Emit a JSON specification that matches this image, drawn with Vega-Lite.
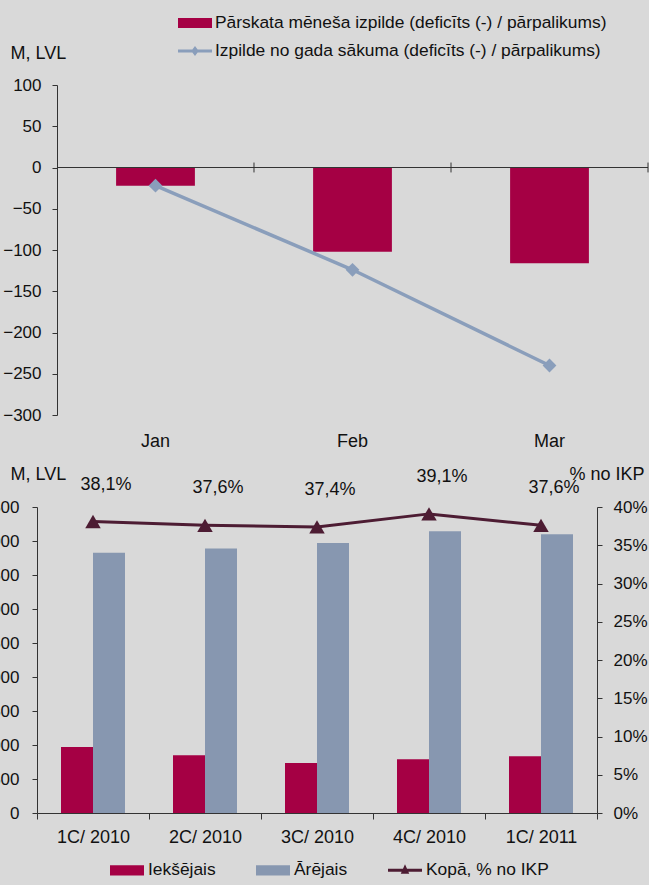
{
  "$schema": "https://vega.github.io/schema/vega-lite/v6.json",
  "autosize": {"type": "none"},
  "padding": {"left": 37, "top": 85, "right": 612, "bottom": 800},
  "background": "#d9d9d9",
  "bounds": "flush",
  "spacing": 92,
  "config": {
    "font": "Liberation Sans",
    "view": {"stroke": null},
    "axis": {"labelFont": "Liberation Sans", "labelFontSize": 17, "labelColor": "#111", "titleFont": "Liberation Sans", "titleFontSize": 18, "titleFontWeight": "normal", "titleColor": "#111", "domainColor": "#333", "tickColor": "#333", "grid": false, "domainWidth": 1, "tickWidth": 1},
    "axisX": {"labelFontSize": 18},
    "legend": {"labelFont": "Liberation Sans", "labelFontSize": 17.4, "labelColor": "#111", "labelLimit": 1000},
    "text": {"font": "Liberation Sans"}
  },
  "datasets": {
    "monthly": [
      {"month": "Jan", "monthly": -22, "cumulative": -22},
      {"month": "Feb", "monthly": -102, "cumulative": -124},
      {"month": "Mar", "monthly": -116, "cumulative": -240}
    ],
    "debt": [
      {"quarter": "1C/ 2010", "series": "Iekšējais", "value": 970},
      {"quarter": "1C/ 2010", "series": "Ārējais", "value": 3829},
      {"quarter": "2C/ 2010", "series": "Iekšējais", "value": 848},
      {"quarter": "2C/ 2010", "series": "Ārējais", "value": 3888},
      {"quarter": "3C/ 2010", "series": "Iekšējais", "value": 735},
      {"quarter": "3C/ 2010", "series": "Ārējais", "value": 3971},
      {"quarter": "4C/ 2010", "series": "Iekšējais", "value": 790},
      {"quarter": "4C/ 2010", "series": "Ārējais", "value": 4143},
      {"quarter": "1C/ 2011", "series": "Iekšējais", "value": 834},
      {"quarter": "1C/ 2011", "series": "Ārējais", "value": 4099}
    ],
    "pct": [
      {"quarter": "1C/ 2010", "pct": 38.1},
      {"quarter": "2C/ 2010", "pct": 37.6},
      {"quarter": "3C/ 2010", "pct": 37.4},
      {"quarter": "4C/ 2010", "pct": 39.1},
      {"quarter": "1C/ 2011", "pct": 37.6}
    ]
  },
  "resolve": {"scale": {"color": "independent"}, "legend": {"color": "independent"}},
  "vconcat": [
    {
      "width": 631,
      "height": 330,
      "data": {"name": "monthly"},
      "layer": [
        {
          "mark": {"type": "bar", "width": {"band": 0.4}},
          "encoding": {
            "x": {"field": "month", "type": "nominal", "sort": null,
              "scale": {"paddingInner": 0, "paddingOuter": 0.1015},
              "axis": {"title": null, "domain": false, "ticks": false, "tickSize": 0, "labelPadding": 17, "labelAngle": 0}},
            "y": {"field": "monthly", "type": "quantitative",
              "scale": {"domain": [-300, 100], "nice": false, "zero": false},
              "axis": {"title": "M, LVL", "titleAngle": 0, "titleAlign": "left", "titleBaseline": "middle", "titleX": -47, "titleY": -32,
                "values": [-300, -250, -200, -150, -100, -50, 0, 50, 100], "offset": -20, "tickSize": 5, "labelPadding": 11}},
            "color": {"datum": "Pārskata mēneša izpilde (deficīts (-) / pārpalikums)",
              "scale": {"domain": ["Pārskata mēneša izpilde (deficīts (-) / pārpalikums)", "Izpilde no gada sākuma (deficīts (-) / pārpalikums)"], "range": ["#a50044", "#8a9ebb"]},
              "legend": {"orient": "none", "legendX": 141, "legendY": -79, "direction": "vertical", "title": null,
                "symbolSize": 1156, "rowPadding": 2, "labelOffset": 3,
                "encode": {"symbols": {"update": {
                  "shape": {"signal": "datum.index == 0 ? 'M-1,-0.3H1V0.3H-1Z' : 'M-1,-0.09H1V0.09H-1Z M0,-0.3L0.22,0L0,0.3L-0.22,0Z'"},
                  "fill": {"signal": "datum.index == 0 ? '#a50044' : '#8a9ebb'"},
                  "stroke": {"value": "transparent"},
                  "strokeWidth": {"value": 0},
                  "opacity": {"value": 1}}}}}}
          }
        },
        {
          "mark": {"type": "bar", "width": {"band": 1}, "fill": "transparent", "stroke": "#333", "strokeWidth": 1},
          "encoding": {
            "x": {"field": "month", "type": "nominal", "sort": null,
              "axis": {"title": null, "domain": false, "ticks": false, "tickSize": 0, "labelPadding": 17, "labelAngle": 0}},
            "y": {"datum": 0,
              "axis": {"title": "M, LVL", "titleAngle": 0, "titleAlign": "left", "titleBaseline": "middle", "titleX": -47, "titleY": -32,
                "values": [-300, -250, -200, -150, -100, -50, 0, 50, 100], "offset": -20, "tickSize": 5, "labelPadding": 11}},
            "y2": {"datum": 0}}
        },
        {
          "mark": {"type": "rule", "stroke": "#333", "strokeWidth": 1},
          "encoding": {
            "x": {"field": "month", "type": "nominal", "sort": null, "bandPosition": 1,
              "axis": {"title": null, "domain": false, "ticks": false, "tickSize": 0, "labelPadding": 17, "labelAngle": 0}},
            "y": {"datum": 6,
              "axis": {"title": "M, LVL", "titleAngle": 0, "titleAlign": "left", "titleBaseline": "middle", "titleX": -47, "titleY": -32,
                "values": [-300, -250, -200, -150, -100, -50, 0, 50, 100], "offset": -20, "tickSize": 5, "labelPadding": 11}},
            "y2": {"datum": -6}}
        },
        {
          "mark": {"type": "line", "strokeWidth": 3.5, "point": {"shape": "diamond", "size": 190, "filled": true}},
          "encoding": {
            "x": {"field": "month", "type": "nominal", "sort": null,
              "axis": {"title": null, "domain": false, "ticks": false, "tickSize": 0, "labelPadding": 17, "labelAngle": 0}},
            "y": {"field": "cumulative", "type": "quantitative",
              "axis": {"title": "M, LVL", "titleAngle": 0, "titleAlign": "left", "titleBaseline": "middle", "titleX": -47, "titleY": -32,
                "values": [-300, -250, -200, -150, -100, -50, 0, 50, 100], "offset": -20, "tickSize": 5, "labelPadding": 11}},
            "color": {"datum": "Izpilde no gada sākuma (deficīts (-) / pārpalikums)"}}
        }
      ]
    },
    {
      "width": 560,
      "height": 306,
      "layer": [
        {
          "data": {"name": "debt"},
          "mark": {"type": "bar"},
          "encoding": {
            "x": {"field": "quarter", "type": "nominal", "sort": null,
              "scale": {"paddingInner": 0, "paddingOuter": 0},
              "axis": {"title": null, "labelAngle": 0, "tickBand": "extent", "tickSize": 6, "labelPadding": 9.5}},
            "xOffset": {"field": "series", "type": "nominal", "sort": ["Iekšējais", "Ārējais"], "scale": {"paddingInner": 0, "paddingOuter": 0.75}},
            "y": {"field": "value", "type": "quantitative", "scale": {"domain": [0, 4500], "nice": false},
              "axis": {"values": [0, 500, 1000, 1500, 2000, 2500, 3000, 3500, 4000, 4500], "title": "M, LVL", "titleAngle": 0, "titleAlign": "left", "titleBaseline": "middle", "titleX": -27, "titleY": -33, "tickSize": 5, "labelPadding": 13}},
            "color": {"field": "series", "type": "nominal",
              "scale": {"domain": ["Iekšējais", "Ārējais", "Kopā, % no IKP"], "range": ["#a50044", "#8797b0", "#4d1c33"]},
              "legend": {"orient": "none", "legendX": 73, "legendY": 346, "direction": "horizontal", "columns": 3, "columnPadding": 40, "title": null,
                "symbolSize": 1156, "labelOffset": 4,
                "encode": {"symbols": {"update": {
                  "shape": {"signal": "datum.index == 2 ? 'M-1,-0.09H1V0.09H-1Z M0,-0.36L0.25,0.2H-0.25Z' : 'M-1,-0.3H1V0.3H-1Z'"},
                  "fill": {"signal": "datum.index == 0 ? '#a50044' : datum.index == 1 ? '#8797b0' : '#4d1c33'"},
                  "stroke": {"value": "transparent"},
                  "strokeWidth": {"value": 0},
                  "opacity": {"value": 1}}}}}}
          }
        },
        {
          "data": {"name": "pct"},
          "encoding": {
            "x": {"field": "quarter", "type": "nominal", "sort": null,
              "axis": {"title": null, "labelAngle": 0, "tickBand": "extent", "tickSize": 6, "labelPadding": 9.5}}
          },
          "layer": [
            {
              "mark": {"type": "line", "strokeWidth": 3, "point": {"shape": "triangle-up", "size": 240, "filled": true}},
              "encoding": {
                "y": {"field": "pct", "type": "quantitative", "scale": {"domain": [0, 40], "nice": false},
                  "axis": {"orient": "right", "values": [0, 5, 10, 15, 20, 25, 30, 35, 40], "labelExpr": "datum.value + '%'", "title": "% no IKP", "titleAngle": 0, "titleAlign": "left", "titleBaseline": "middle", "titleX": -28, "titleY": -33, "tickSize": 5, "labelPadding": 11}},
                "color": {"datum": "Kopā, % no IKP"}
              }
            },
            {
              "mark": {"type": "text", "fontSize": 18, "color": "#111", "dx": 13, "dy": -37, "baseline": "middle",
                "text": {"expr": "replace(format(datum.pct, '.1f'), '.', ',') + '%'"}},
              "encoding": {
                "y": {"field": "pct", "type": "quantitative", "scale": {"domain": [0, 40], "nice": false},
                  "axis": {"orient": "right", "values": [0, 5, 10, 15, 20, 25, 30, 35, 40], "labelExpr": "datum.value + '%'", "title": "% no IKP", "titleAngle": 0, "titleAlign": "left", "titleBaseline": "middle", "titleX": -28, "titleY": -33, "tickSize": 5, "labelPadding": 11}}
              }
            }
          ]
        }
      ],
      "resolve": {"scale": {"y": "independent"}}
    }
  ]
}
